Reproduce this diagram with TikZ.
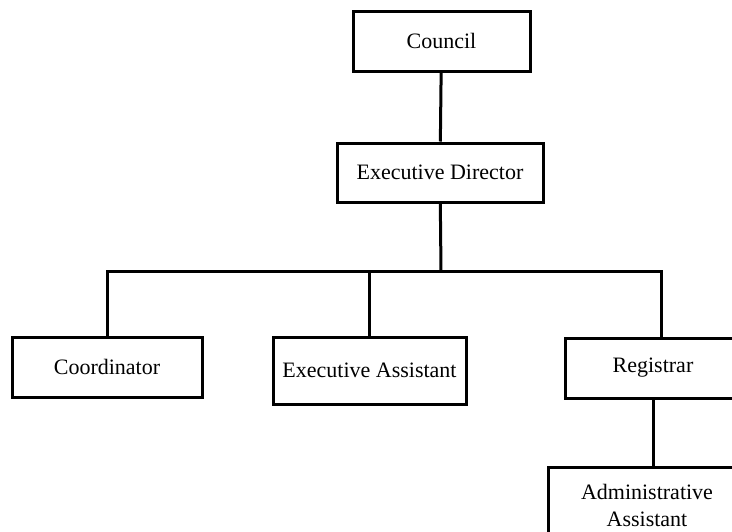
\documentclass[tikz,border=0pt]{standalone}
\usepackage{fontspec}
\setmainfont{Liberation Serif}
\usetikzlibrary{positioning}

\begin{document}
\begin{tikzpicture}[x=1pt, y=-1pt, line width=3pt,
    post/.style={draw, fill=white, inner sep=0pt, align=center, font=\fontsize{22}{27}\selectfont}]
    \useasboundingbox (0,0) rectangle (732,531);
    \clip (0,0) rectangle (732,531);

    % Top of the chart
    \node[post, minimum width=177pt, minimum height=60pt] (council) at (441.5,41) {Council};
    \node[post, minimum width=206pt, minimum height=59pt] (director) at (440,172.5) {Executive Director};

    % Staff row
    \node[post, minimum width=190pt, minimum height=60pt] (coord) at (107,367) {Coordinator};
    \node[post, minimum width=193pt, minimum height=67pt] (assist) at (369.5,370.5) {Executive Assistant};
    \node[post, minimum width=176pt, minimum height=60pt] (registrar) at (653,368) {Registrar};
    \node[post, minimum width=198pt, minimum height=76pt] (admin) at (647,505) {Administrative\\Assistant};

    % Joints
    \coordinate (bus) at (441,271);
    \coordinate (regtop) at (661,337);

    % Lines
    \draw (council) -- (director);
    \draw (director) -- (bus);
    \draw (coord.north) |- (bus) -| (regtop);
    \draw (assist.north) -- (assist.north |- bus);
    \draw (registrar.south) -- (registrar.south |- admin.north);
\end{tikzpicture}
\end{document}
